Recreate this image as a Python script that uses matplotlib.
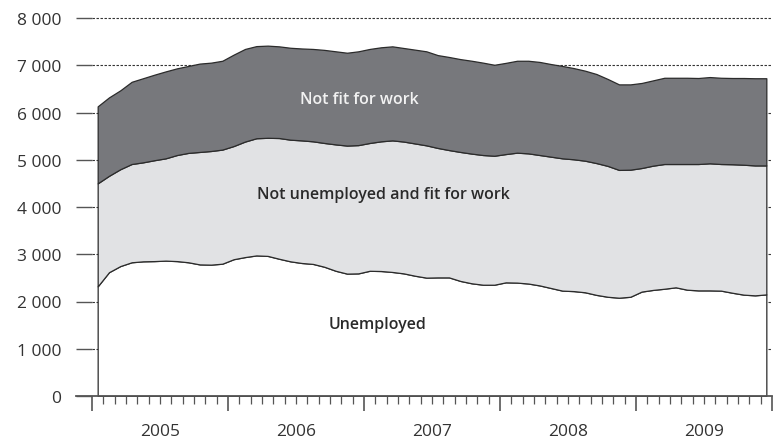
import matplotlib.pyplot as plt
import numpy as np
from matplotlib.ticker import FixedLocator, NullFormatter

# monthly figures, Jan 2005 - Dec 2009 (thousands)
years = ["2005", "2006", "2007", "2008", "2009"]

unemployed = [
    2320, 2620, 2750, 2830, 2850, 2855, 2865, 2855, 2830, 2785, 2780, 2800,
    2895, 2940, 2975, 2965, 2905, 2850, 2815, 2795, 2735, 2650, 2590, 2595,
    2650, 2645, 2625, 2595, 2545, 2505, 2510, 2510, 2435, 2385, 2355, 2355,
    2405, 2400, 2380, 2340, 2285, 2230, 2220, 2195, 2140, 2100, 2080, 2100,
    2210, 2245, 2270, 2300, 2250, 2235, 2235, 2230, 2185, 2145, 2130, 2150,
]
not_unemployed_fit = [
    2180, 2040, 2050, 2080, 2095, 2135, 2165, 2245, 2315, 2380, 2405, 2415,
    2395, 2445, 2480, 2500, 2555, 2575, 2595, 2595, 2620, 2675, 2710, 2715,
    2705, 2745, 2785, 2790, 2800, 2800, 2740, 2695, 2730, 2745, 2745, 2730,
    2715, 2750, 2755, 2760, 2780, 2800, 2790, 2785, 2790, 2770, 2705, 2690,
    2615, 2630, 2640, 2610, 2660, 2675, 2690, 2680, 2720, 2750, 2750, 2730,
]
not_fit = [
    1630, 1660, 1670, 1740, 1780, 1810, 1840, 1835, 1840, 1870, 1870, 1880,
    1935, 1960, 1950, 1950, 1940, 1945, 1945, 1955, 1970, 1970, 1965, 1985,
    1990, 1990, 1990, 1980, 1985, 1990, 1965, 1970, 1965, 1965, 1955, 1925,
    1930, 1945, 1960, 1970, 1960, 1955, 1930, 1905, 1885, 1840, 1810, 1805,
    1800, 1805, 1825, 1825, 1825, 1820, 1825, 1825, 1825, 1835, 1845, 1845,
]
y_ticks = [0, 1000, 2000, 3000, 4000, 5000, 6000, 7000, 8000]

FONT = "Open Sans"
TEXT = "#333333"
AXIS = "#555555"

months = np.arange(len(unemployed)) + 0.5  # plotted mid-month

fig = plt.figure(figsize=(7.84, 4.39), dpi=100)
ax = fig.add_axes([76 / 784, 42 / 439, 696 / 784, 378 / 439])

ax.hlines(y_ticks[1:], 0, 60, colors="#333333", linestyles=(0, (2.2, 1.4)),
          linewidth=0.8, zorder=0, clip_on=False)

ax.stackplot(months, unemployed, not_unemployed_fit, not_fit,
             colors=["#ffffff", "#e1e2e4", "#77787c"],
             edgecolor="#2b2b2b", linewidth=0.9, zorder=2)

ax.set_xlim(-16 / 11.333, 60)
ax.set_ylim(0, 8000)

for side in ("top", "right", "left"):
    ax.spines[side].set_visible(False)
ax.spines["bottom"].set_color(AXIS)
ax.spines["bottom"].set_linewidth(1.3)
ax.spines["bottom"].set_zorder(3)

ax.set_yticks(y_ticks)
ax.set_yticklabels([f"{v:,}".replace(",", " ") for v in y_ticks])
ax.tick_params(axis="y", direction="in", length=11.5, width=1.0, color=AXIS,
               pad=10.5, labelsize=12.5, labelcolor=TEXT)

ax.xaxis.set_major_locator(FixedLocator(np.arange(0, 61, 12)))
ax.xaxis.set_minor_locator(FixedLocator([m for m in range(61) if m % 12]))
ax.xaxis.set_major_formatter(NullFormatter())
ax.tick_params(axis="x", which="major", direction="out", length=11, width=1.2, color=AXIS)
ax.tick_params(axis="x", which="minor", direction="out", length=5.5, width=0.9, color=AXIS)

for tl in ax.get_yticklabels():
    tl.set_fontfamily(FONT)

for k, yr in enumerate(years):
    ax.annotate(yr, xy=(6 + 12 * k, 0), xycoords=("data", "axes fraction"),
                xytext=(0, -25.5), textcoords="offset points",
                ha="center", va="center", fontsize=12.5, color=TEXT, family=FONT)

ax.text(23.56, 6286, "Not fit for work", ha="center", va="center",
        fontsize=11.5, fontweight="semibold", color="#f2f2f2", family=FONT, zorder=4)
ax.text(25.68, 4275, "Not unemployed and fit for work", ha="center", va="center",
        fontsize=11.5, fontweight="semibold", color="#2a2a2a", family=FONT, zorder=4)
ax.text(25.2, 1524, "Unemployed", ha="center", va="center",
        fontsize=11.5, fontweight="semibold", color="#2a2a2a", family=FONT, zorder=4)

fig.savefig("out.png", dpi=100)
